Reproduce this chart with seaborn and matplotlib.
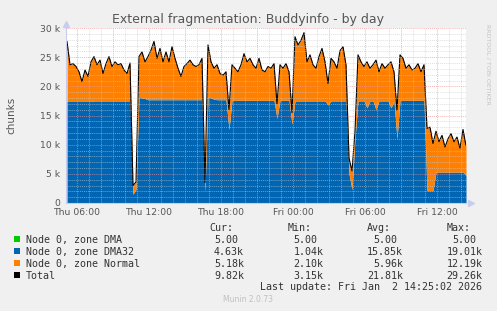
import numpy as np
import pandas as pd
import matplotlib
matplotlib.use("Agg")
import matplotlib.pyplot as plt
import matplotlib.dates as mdates
from matplotlib.ticker import MultipleLocator, FuncFormatter
from matplotlib.patches import Rectangle
import seaborn as sns

# 15 minute samples, Thu 1 Jan 2026 05:10 -> Fri 2 Jan 14:25
times = pd.date_range("2026-01-01 05:10", periods=134, freq="15min")

# Total free chunks (thousands)
total_k = [
    27.7, 23.7, 23.9, 23.4, 22.5, 20.8, 22.8, 21.7, 24.2, 25.1,
    23.7, 24.5, 22.2, 23.9, 25.1, 23.4, 24.2, 23.7, 23.9, 22.8,
    22.2, 24.0, 3.0, 3.6, 25.1, 25.9, 24.2, 25.1, 26.2, 27.7,
    24.8, 26.5, 24.2, 25.9, 24.2, 26.8, 24.8, 23.1, 21.7, 23.4,
    23.9, 24.5, 23.7, 23.4, 23.7, 24.8, 3.5, 27.1, 24.2, 23.1,
    23.7, 22.2, 21.9, 22.5, 16.0, 23.7, 23.1, 22.5, 23.7, 25.6,
    24.2, 24.8, 23.7, 23.1, 24.8, 22.8, 22.5, 23.4, 23.1, 23.9,
    17.0, 23.7, 23.1, 23.9, 22.5, 15.5, 28.5, 27.1, 27.9, 29.2,
    24.2, 25.4, 23.7, 23.1, 25.1, 26.5, 24.2, 20.5, 24.8, 24.2,
    23.1, 26.1, 26.8, 23.7, 7.7, 5.5, 12.3, 25.4, 24.2, 23.4,
    24.2, 23.1, 23.7, 24.5, 22.5, 23.9, 23.1, 23.7, 24.2, 22.5,
    15.9, 25.4, 24.8, 23.1, 23.7, 22.8, 23.1, 23.9, 22.5, 23.7,
    12.8, 13.0, 10.2, 12.3, 10.5, 11.6, 9.6, 11.0, 11.9, 10.5,
    11.3, 9.4, 12.6, 9.8,
]

# Node 0, zone DMA32 (thousands)
dma32_k = [
    17.4, 17.4, 17.4, 17.4, 17.4, 17.4, 17.4, 17.4, 17.4, 17.5,
    17.5, 17.5, 17.5, 17.5, 17.5, 17.5, 17.5, 17.5, 17.5, 17.5,
    17.5, 17.5, 1.5, 2.3, 18.1, 18.0, 17.9, 17.7, 17.7, 17.7,
    17.7, 17.7, 17.7, 17.7, 17.7, 17.7, 17.7, 17.7, 17.7, 17.7,
    17.7, 17.7, 17.7, 17.7, 17.7, 17.7, 2.0, 18.2, 18.0, 17.8,
    17.7, 17.7, 17.7, 17.7, 12.6, 17.6, 17.6, 17.6, 17.6, 17.6,
    17.6, 17.6, 17.6, 17.6, 17.6, 17.6, 17.6, 17.6, 17.6, 17.6,
    14.5, 17.6, 17.6, 17.6, 17.6, 13.5, 17.5, 17.5, 17.5, 17.5,
    17.5, 17.5, 17.5, 17.5, 17.5, 17.5, 17.5, 16.8, 17.5, 17.5,
    17.5, 17.5, 17.5, 17.5, 5.0, 2.3, 11.0, 17.5, 17.5, 17.5,
    16.3, 17.5, 17.5, 16.0, 17.5, 17.5, 17.5, 17.5, 16.3, 17.5,
    11.0, 17.6, 17.6, 17.6, 17.6, 17.6, 17.6, 17.6, 17.6, 17.6,
    2.1, 2.1, 2.1, 5.3, 5.3, 5.3, 5.3, 5.3, 5.3, 5.3,
    5.3, 5.3, 5.3, 4.7,
]

# Node 0, zone DMA is flat
dma_value = 5.0

# legend table
legend_names = ["Node 0, zone DMA", "Node 0, zone DMA32", "Node 0, zone Normal", "Total"]
legend_colors = ["#00cc00", "#0066b3", "#ff8000", "#000000"]
cur_vals = ["5.00", "4.63k", "5.18k", "9.82k"]
min_vals = ["5.00", "1.04k", "2.10k", "3.15k"]
avg_vals = ["5.00", "15.85k", "5.96k", "21.81k"]
max_vals = ["5.00", "19.01k", "12.19k", "29.26k"]

assert len(total_k) == len(times) == len(dma32_k)

df = pd.DataFrame({"time": times,
                   "total": np.array(total_k) * 1000,
                   "dma32": np.array(dma32_k) * 1000})
df["dma"] = dma_value
df["normal"] = df["total"] - df["dma32"] - df["dma"]

sns.set_theme(style="white")
plt.rcParams["font.family"] = ["DejaVu Sans"]

W, H = 497, 311
fig = plt.figure(figsize=(W / 100, H / 100), dpi=100, facecolor="#f0f0f0")
ax = fig.add_axes([66 / W, (H - 203) / H, 400 / W, 175 / H])
ax.set_facecolor("white")

ax.stackplot(df["time"], df["dma"], df["dma32"], df["normal"],
             colors=legend_colors[:3], linewidth=0)
sns.lineplot(data=df, x="time", y="total", ax=ax, color="black", linewidth=0.8)

ax.set_xlim(pd.Timestamp("2026-01-01 05:05"), pd.Timestamp("2026-01-02 14:25"))
ax.set_ylim(0, 30000)

# grid: minor grey every hour / 1k, major red every 3 h / 5k
ax.xaxis.set_major_locator(mdates.HourLocator(byhour=range(0, 24, 3)))
ax.xaxis.set_minor_locator(mdates.HourLocator())
ax.xaxis.set_major_formatter(FuncFormatter(
    lambda v, p: mdates.num2date(v).strftime("%a %H:%M") if mdates.num2date(v).hour % 6 == 0 else ""))
ax.yaxis.set_major_locator(MultipleLocator(5000))
ax.yaxis.set_minor_locator(MultipleLocator(1000))
ax.yaxis.set_major_formatter(FuncFormatter(lambda v, p: "0" if v == 0 else f"{int(v / 1000)} k"))

ax.set_axisbelow(False)
ax.grid(which="minor", color="#c8c8c8", alpha=0.8, linestyle=(0, (1.4, 1.4)), linewidth=0.5)
ax.grid(which="major", color="#f09090", alpha=0.9, linestyle=(0, (1.4, 1.4)), linewidth=0.5)

ax.tick_params(axis="both", which="both", labelsize=6.7, labelcolor="#555555", direction="out")
ax.tick_params(axis="y", which="major", length=2, pad=2.3, color="#d0a0a0")
ax.tick_params(axis="y", which="minor", length=2, color="#bbbbbb")
ax.tick_params(axis="x", which="major", length=2, pad=1.5, color="#e08080")
ax.tick_params(axis="x", which="minor", length=1.5, color="#bbbbbb")

ax.set_xlabel("")
ax.set_ylabel("")
for s in ["top", "right"]:
    ax.spines[s].set_visible(False)
for s in ["left", "bottom"]:
    ax.spines[s].set_color("#c8cdf0")
    ax.spines[s].set_linewidth(0.8)
ax.plot([0], [1.025], marker="^", markersize=4, color="#c8cdf0", transform=ax.transAxes, clip_on=False)
ax.plot([1.012], [0], marker=">", markersize=4, color="#c8cdf0", transform=ax.transAxes, clip_on=False)

# texts around the plot
fig.text(248 / W, 1 - 23.5 / H, "External fragmentation: Buddyinfo - by day",
         ha="center", va="baseline", fontsize=9, color="#555555")
fig.text(11 / W, 1 - 115 / H, "chunks", rotation=90, ha="center", va="center",
         fontsize=7.5, color="#555555")
fig.text(488.5 / W, 1 - 64 / H, "RRDTOOL / TOBI OETIKER", rotation=270, ha="center",
         va="center", fontsize=4.5, color="#c4c4c4")

mono = {"family": "DejaVu Sans Mono", "fontsize": 7.2, "color": "#333333"}
header_y = 231
for label, x in [("Cur:", 209), ("Min:", 288), ("Avg:", 367), ("Max:", 447)]:
    fig.text(x / W, 1 - header_y / H, label, ha="left", va="baseline", **mono)

col_right = [244, 323.5, 403, 482.5]
for i, name in enumerate(legend_names):
    base = 242.7 + 12 * i
    fig.patches.append(Rectangle((14 / W, 1 - (base - 0.3) / H), 6 / W, 6 / H,
                                 transform=fig.transFigure, facecolor=legend_colors[i],
                                 edgecolor="none"))
    fig.text(26 / W, 1 - base / H, name, ha="left", va="baseline", **mono)
    for vals, xr in zip([cur_vals, min_vals, avg_vals, max_vals], col_right):
        v = vals[i]
        x = xr if v.endswith("k") else xr - 6
        fig.text(x / W, 1 - base / H, v, ha="right", va="baseline", **mono)

fig.text(482.5 / W, 1 - 290.5 / H, "Last update: Fri Jan  2 14:25:02 2026",
         ha="right", va="baseline", **mono)
fig.text(248 / W, 1 - 300 / H, "Munin 2.0.73", ha="center", va="center",
         fontsize=5.5, color="#c0c0c0")

fig.savefig("out.png", dpi=100, facecolor=fig.get_facecolor())
